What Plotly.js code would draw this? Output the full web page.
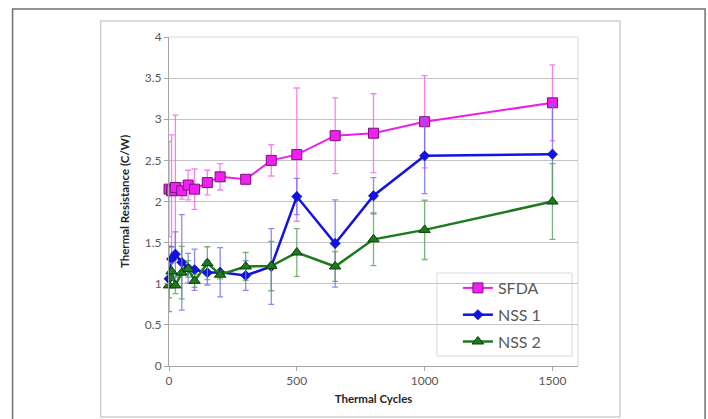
<!DOCTYPE html>
<html>
<head>
<meta charset="utf-8">
<script src="https://cdn.plot.ly/plotly-3.0.1.min.js"></script>
<style>
html,body{margin:0;padding:0;background:#fff;}
#chart{width:708px;height:419px;}
</style>
</head>
<body>
<div id="chart"></div>
<script>
// ---- data ----
var cycles  = [0, 10, 25, 50, 75, 100, 150, 200, 300, 400, 500, 650, 800, 1000, 1500];
var sfda    = [2.15, 2.13, 2.17, 2.13, 2.20, 2.15, 2.23, 2.30, 2.27, 2.50, 2.57, 2.80, 2.83, 2.97, 3.20];
var sfdaErr = [0.58, 0.68, 0.88, 0.10, 0.18, 0.245, 0.15, 0.16, 0.03, 0.19, 0.81, 0.46, 0.48, 0.56, 0.46];
var nss1    = [1.06, 1.30, 1.36, 1.26, 1.19, 1.17, 1.135, 1.14, 1.10, 1.21, 2.06, 1.49, 2.07, 2.555, 2.575];
var nss1Err = [0.40, 0.15, 0.27, 0.58, 0.18, 0.25, 0.15, 0.30, 0.18, 0.46, 0.22, 0.53, 0.22, 0.46, 0.60];
var nss2    = [0.98, 1.15, 0.98, 1.135, 1.18, 1.035, 1.25, 1.11, 1.21, 1.215, 1.38, 1.21, 1.54, 1.655, 2.00];
var nss2Err = [0.15, 0.10, 0.10, 0.32, 0.10, 0.08, 0.20, 0.05, 0.17, 0.30, 0.29, 0.18, 0.32, 0.36, 0.46];
var seriesNames = ['SFDA', 'NSS 1', 'NSS 2'];
var xTitle = 'Thermal Cycles';
var yTitle = 'Thermal Resistance (C/W)';

// ---- geometry (pixels) ----
var W = 708, H = 419;
var PL = 169.3, PR = 578, PT = 37, PB = 366;
function px(x){ return (x - PL) / (PR - PL); }
function py(y){ return (PB - y) / (PB - PT); }

var font = 'Lato, "Liberation Sans", Arial, sans-serif';

var traces = [
  {
    x: cycles, y: sfda, name: seriesNames[0], legendgroup: 'a', type: 'scatter', mode: 'lines+markers',
    line: {color: '#ea1fea', width: 2},
    marker: {symbol: 'square', size: 10, color: '#f020f0', line: {color: '#7a107a', width: 1}},
    error_y: {type: 'data', array: sfdaErr, visible: true, color: 'rgba(240,110,240,0.85)', thickness: 1.3, width: 3},
    cliponaxis: false
  },
  {
    x: cycles, y: nss1, name: seriesNames[1], legendgroup: 'b', type: 'scatter', mode: 'lines+markers',
    line: {color: '#1212e8', width: 2.5},
    marker: {symbol: 'diamond', size: 8, color: '#1212e8', line: {color: '#0a0a90', width: 0.5}},
    error_y: {type: 'data', array: nss1Err, visible: true, color: 'rgba(110,110,240,0.8)', thickness: 1.3, width: 3},
    cliponaxis: false
  },
  {
    x: cycles, y: nss2, name: seriesNames[2], legendgroup: 'c', type: 'scatter', mode: 'lines+markers',
    line: {color: '#1d7a1d', width: 2.5},
    marker: {symbol: 'triangle-up', size: 10, color: '#1d7a1d', line: {color: '#0b3d0b', width: 1}},
    error_y: {type: 'data', array: nss2Err, visible: true, color: 'rgba(90,160,90,0.8)', thickness: 1.3, width: 3},
    cliponaxis: false
  }
];

var shapes = [
  // outer page frame (no bottom edge)
  {type: 'path', xref: 'paper', yref: 'paper', layer: 'below',
   path: 'M' + px(13) + ',' + py(425) + ' L' + px(13) + ',' + py(9) + ' L' + px(705) + ',' + py(9) + ' L' + px(705) + ',' + py(425),
   line: {color: '#707070', width: 1.5}},
  // inner chart frame
  {type: 'rect', xref: 'paper', yref: 'paper', layer: 'below',
   x0: px(101), x1: px(620), y0: py(417), y1: py(21),
   line: {color: '#d0d0d0', width: 1.5}},
  // plot area top and right border
  {type: 'path', xref: 'paper', yref: 'paper', layer: 'below',
   path: 'M0,1 L1,1 L1,0', line: {color: '#d9d9d9', width: 1}},
  // legend box
  {type: 'rect', xref: 'paper', yref: 'paper', layer: 'between',
   x0: px(437), x1: px(572), y0: py(356), y1: py(273),
   fillcolor: '#ffffff', line: {color: '#d9d9d9', width: 1}}
];

var layout = {
  width: W, height: H,
  margin: {l: PL, r: W - PR, t: PT, b: H - PB, pad: 0},
  paper_bgcolor: 'rgba(0,0,0,0)',
  plot_bgcolor: 'rgba(0,0,0,0)',
  font: {family: font, color: '#595959', size: 12},
  showlegend: true,
  legend: {
    x: px(458), y: py(271), xanchor: 'left', yanchor: 'top',
    bgcolor: 'rgba(0,0,0,0)', borderwidth: 0,
    font: {family: font, size: 16, color: '#595959'},
    itemwidth: 30, tracegroupgap: 3, traceorder: 'grouped'
  },
  xaxis: {
    range: [0, 1600], tickvals: [0, 500, 1000, 1500], ticktext: ['0', '500', '1000', '1500'],
    showgrid: false, zeroline: false, showline: true, linecolor: '#a6a6a6', linewidth: 1,
    ticks: 'outside', ticklen: 4, tickcolor: '#a6a6a6',
    tickfont: {family: font, size: 12, color: '#595959'},
    title: {text: '<b>' + xTitle + '</b>', font: {family: font, size: 11.5, color: '#262626'}, standoff: 7}
  },
  yaxis: {
    range: [0, 4], dtick: 0.5, tick0: 0,
    showgrid: true, gridcolor: '#c4c4c4', gridwidth: 1, zeroline: false,
    showline: true, linecolor: '#a6a6a6', linewidth: 1,
    ticks: 'outside', ticklen: 4, tickcolor: '#a6a6a6',
    tickfont: {family: font, size: 12, color: '#595959'},
    title: {text: '<b>' + yTitle + '</b>', font: {family: font, size: 11.5, color: '#262626'}, standoff: 12}
  },
  shapes: shapes
};

Plotly.newPlot('chart', traces, layout, {displayModeBar: false, staticPlot: true});
</script>
</body>
</html>
